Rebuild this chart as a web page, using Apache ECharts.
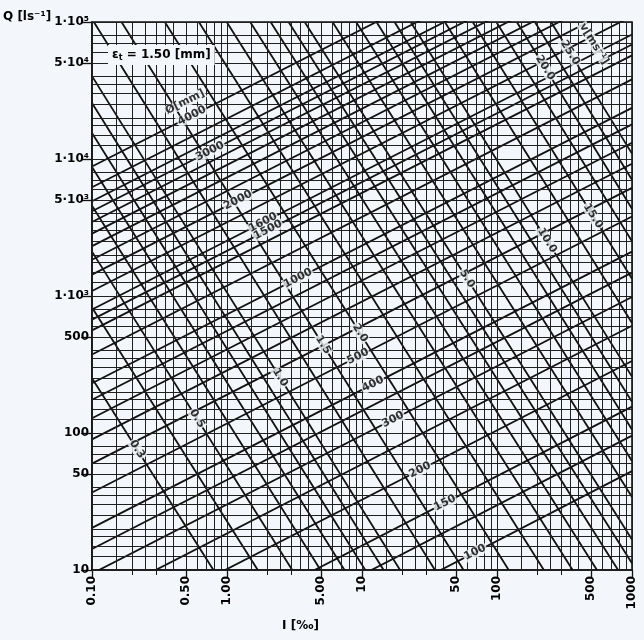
<!DOCTYPE html>
<html><head><meta charset="utf-8">
<script src="https://cdn.jsdelivr.net/npm/echarts@6/dist/echarts.min.js"></script>
<style>html,body{margin:0;padding:0;background:#f3f6fa;}#c{width:644px;height:640px;}</style>
</head><body><div id="c"></div>
<script>
// ---- data (k = 1.50 mm) ----
const diameterLabels = ['100','125','150','200','250','300','350','400','500','600','700','800','900','1000','1200','1400','1500','1600','1800','2000','2200','2400','2600','2800','3000','3200','3500','4000'];
const diameterQAtI0_1 = [0.483,0.887,1.456,3.168,5.774,9.414,14.22,20.31,36.80,59.74,89.91,128.1,174.9,231.0,373.7,561.0,672.7,797.2,1086.7,1433.2,1840.6,2312.8,2852.7,3464.3,4150.5,4914.6,6213.6,8811];
const diameterQAtI1000 = [52.66,95.71,155.78,335.35,606.9,984.5,1481,2109,3804,6153,9237,13129,17898,23610,38112,57113,68437,81050,110351,145404,186596,234294,288826,350556,419790,496862,627842,889572];

const velocityLabels = ['0.3','0.4','0.5','0.6','0.7','0.8','0.9','1.0','1.25','1.5','2.0','2.5','3.0','3.5','4.0','4.5','5.0','6.0','7.0','8.0','9.0','10.0','12.5','15.0','17.5','20.0','22.5','25.0'];
const velocityStartI = [0.1,0.1,0.1,0.1,0.1,0.1,0.1,0.1,0.1032,0.1654,0.3463,0.6188,0.9945,1.4856,2.1035,2.859,3.762,6.051,9.045,12.81,17.42,22.94,41.07,66.1,98.9,140.2,190.8,251.4];
const velocityStartQ = [250.9,824.5,2108,4558,8752,15483,25617,40266,100000,100000,100000,100000,100000,100000,100000,100000,100000,100000,100000,100000,100000,100000,100000,100000,100000,100000,100000,100000];
const velocityEndI = [0.7935,1.690,3.043,4.929,7.416,10.57,14.46,19.14,34.72,56.5,122.1,222.3,363.1,550,788.8,1000,1000,1000,1000,1000,1000,1000,1000,1000,1000,1000,1000,1000];
const velocityEndQ = [10,10,10,10,10,10,10,10,10,10,10,10,10,10,10,11.2,16.69,34.05,62.5,105.9,169.2,257.9,635.9,1334.8,2507,4339.5,7063,10942];

const diameterTagText = ['Ø[mm]','4000','3000','2000','1600','1500','1000','500','400','300','200','150','100'];
const diameterTagI = [0.4886,0.5504,0.7482,1.2063,1.848,2.012,3.357,9.342,12.06,16.97,26.89,41.19,68.7];
const diameterTagQ = [26070,20716,11381,4997,3445,3034,1350,361.5,227.5,125.7,53.8,30.88,13.46];

const velocityTagText = ['0.3','0.5','1.0','1.5','2.0','5.0','10.0','15.0','20.0','25.0','v[ms⁻¹]'];
const velocityTagI = [0.2154,0.5995,2.470,5.141,9.665,59.95,234.6,514,226.8,347.4,523];
const velocityTagQ = [76.0,127.4,254.2,440,536.7,1339,2543,3842,46400,59600,69100];

const xTickValues = [0.1,0.5,1,5,10,50,100,500,1000];
const xTickLabels = ['0.10','0.50','1.00','5.00','10','50','100','500','1000'];
const xMinorTicks = [0.2,0.3,2,3,20,30,200,300];
const yTickValues = [10,50,100,500,1000,5000,10000,50000,100000];
const yTickLabels = ['10','50','100','500','1·10³','5·10³','1·10⁴','5·10⁴','1·10⁵'];

const xGridDecades = [0.1,1,10,100];
const xGridFactors = [1,1.5,2,2.5,3,3.5,4,5,6,7,8,9];
const yGridDecades = [10,100,1000,10000];
const yGridFactors = [1,1.25,1.5,1.75,2,2.5,3,3.5,4,5,6,7,8];

// ---- build ----
const BG = '#f3f6fa';
const INK = '#111111';
const FONT = 'DejaVu Sans';
function gridVals(decs, facs, last){
  const out=[]; decs.forEach(d=>facs.forEach(f=>out.push(Number((d*f).toPrecision(6))))); out.push(last); return out;
}
const xGridValues = gridVals(xGridDecades, xGridFactors, 1000);
const yGridValues = gridVals(yGridDecades, yGridFactors, 100000);
function lookup(vals, labels, v){
  const i = vals.findIndex(t=>Math.abs(t-v)/t<1e-6); return i<0?'':labels[i];
}

const series = [];
series.push({type:'line', data:[[0.1,10]], showSymbol:false, silent:true, z:1, lineStyle:{width:0},
  markLine:{silent:true, symbol:['none','none'], label:{show:false}, animation:false,
    lineStyle:{color:'#202020', width:1, type:'solid'},
    data:[...xGridValues.map(v=>({xAxis:v})), ...yGridValues.map(v=>({yAxis:v}))]}});
diameterLabels.forEach((d,i)=>series.push({type:'line', name:'D'+d, showSymbol:false, silent:true, z:2,
  data:[[0.1,diameterQAtI0_1[i]],[1000,diameterQAtI1000[i]]], lineStyle:{color:INK,width:1.8}}));
velocityLabels.forEach((v,i)=>series.push({type:'line', name:'v'+v, showSymbol:false, silent:true, z:2,
  data:[[velocityStartI[i],velocityStartQ[i]],[velocityEndI[i],velocityEndQ[i]]], lineStyle:{color:INK,width:1.8}}));
const tagLabel = {show:true, formatter:'{b}', position:'inside', color:'#000', fontFamily:FONT, fontSize:11, fontWeight:'bold',
  backgroundColor:BG, padding:[0,1,0,1]};
series.push({type:'scatter', symbolSize:1, itemStyle:{color:'rgba(0,0,0,0)'}, z:5, silent:true,
  data:diameterTagText.map((t,i)=>({name:t, value:[diameterTagI[i],diameterTagQ[i]]})),
  label:Object.assign({}, tagLabel, {rotate:27})});
series.push({type:'scatter', symbolSize:1, itemStyle:{color:'rgba(0,0,0,0)'}, z:5, silent:true,
  data:velocityTagText.map((t,i)=>({name:t, value:[velocityTagI[i],velocityTagQ[i]]})),
  label:Object.assign({}, tagLabel, {rotate:-58})});

const axisText = {color:'#000', fontFamily:FONT, fontSize:12, fontWeight:'bold'};
const chart = echarts.init(document.getElementById('c'));
chart.setOption({
  animation:false,
  backgroundColor:BG,
  grid:{left:92, right:12, top:22, bottom:70, show:true, borderColor:INK, borderWidth:1.6, backgroundColor:BG},
  xAxis:[
    {type:'log', logBase:10, min:0.1, max:1000, position:'bottom',
     axisLine:{show:true, lineStyle:{color:INK,width:1.6}},
     axisTick:{show:true, customValues:xTickValues, length:8, lineStyle:{color:INK,width:1.3}},
     axisLabel:Object.assign({show:true, customValues:xTickValues, rotate:90, margin:6,
       formatter:v=>lookup(xTickValues,xTickLabels,v)}, axisText),
     splitLine:{show:false}},
    {type:'log', logBase:10, min:0.1, max:1000, position:'bottom',
     axisLine:{show:false},
     axisTick:{show:true, customValues:xMinorTicks, length:5, lineStyle:{color:INK,width:1}},
     axisLabel:{show:false}, splitLine:{show:false}}
  ],
  yAxis:[
    {type:'log', logBase:10, min:10, max:100000, position:'left',
     axisLine:{show:true, lineStyle:{color:INK,width:1.6}},
     axisTick:{show:true, customValues:yTickValues, length:11, lineStyle:{color:INK,width:1.3}},
     axisLabel:Object.assign({show:true, customValues:yTickValues, margin:3,
       formatter:v=>lookup(yTickValues,yTickLabels,v)}, axisText),
     splitLine:{show:false}}
  ],
  graphic:[
    {type:'text', left:3, top:11, style:{text:'Q [ls⁻¹]', fill:'#000', font:'bold 12px "DejaVu Sans"'}},
    {type:'text', left:282, top:620, style:{text:'I [‰]', fill:'#000', font:'bold 12px "DejaVu Sans"'}},
    {type:'text', left:108, top:45, z:100, style:{text:'{e|ε}{s|t}{e| = 1.50 [mm]}', backgroundColor:BG, padding:[3,4,3,4],
      rich:{e:{fontSize:12, fontWeight:'bold', fontFamily:FONT, fill:'#000'}, s:{fontSize:8, fontWeight:'bold', fontFamily:FONT, fill:'#000', padding:[6,0,0,0]}}}}
  ],
  series:series
});
</script></body></html>
